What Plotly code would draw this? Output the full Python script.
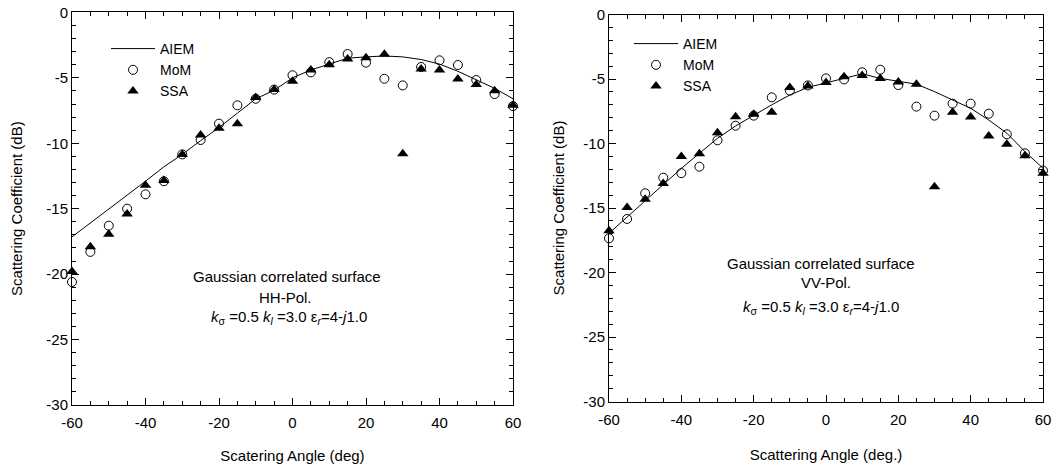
import plotly.graph_objects as go

angles = [-60, -55, -50, -45, -40, -35, -30, -25, -20, -15, -10, -5, 0,
          5, 10, 15, 20, 25, 30, 35, 40, 45, 50, 55, 60]

# HH polarisation
hh_aiem = [-17.15, -16.1, -15.05, -14.0, -12.9, -11.8, -10.85, -9.8, -8.8, -7.7,
           -6.6, -5.95, -5.0, -4.4, -3.95, -3.5, -3.4, -3.33, -3.4, -3.6,
           -3.95, -4.5, -5.15, -5.8, -6.6]
hh_mom = [-20.6, -18.3, -16.3, -15.0, -13.9, -12.9, -10.85, -9.75, -8.5, -7.1,
          -6.6, -5.9, -4.8, -4.58, -3.8, -3.18, -3.84, -5.07, -5.58, -4.17,
          -3.66, -4.02, -5.17, -6.24, -7.16]
hh_ssa = [-19.8, -17.9, -16.95, -15.4, -13.2, -12.85, -10.85, -9.37, -8.86, -8.5,
          -6.5, -5.9, -5.27, -4.4, -4.0, -3.56, -3.46, -3.2, -10.8, -4.33,
          -4.4, -5.09, -5.5, -5.98, -7.1]

# VV polarisation
vv_aiem = [-16.96, -15.7, -14.5, -13.2, -11.93, -10.76, -9.6, -8.64, -7.8, -7.0,
           -6.24, -5.65, -5.3, -4.95, -4.6, -4.95, -5.15, -5.4, -5.98, -6.63,
           -7.27, -8.18, -9.2, -10.63, -11.92]
vv_mom = [-17.35, -15.85, -13.86, -12.65, -12.3, -11.8, -9.75, -8.62, -7.84, -6.42,
          -5.9, -5.5, -4.95, -5.03, -4.48, -4.28, -5.47, -7.14, -7.84, -6.91,
          -6.91, -7.69, -9.29, -10.76, -12.1]
vv_ssa = [-16.76, -14.97, -14.33, -13.1, -11.0, -10.8, -9.16, -7.92, -7.74, -7.58,
          -5.65, -5.55, -5.28, -4.82, -4.72, -4.97, -5.23, -5.41, -13.35, -7.58,
          -7.95, -9.42, -10.06, -10.94, -12.31]

x_ticks = [-60, -40, -20, 0, 20, 40, 60]
x_ticktext = ["-60", "-40", "-20", "0", "20", "40", "60"]
y_ticks = [0, -5, -10, -15, -20, -25, -30]
y_ticktext = ["0", "-5", "-10", "-15", "-20", "-25", "-30"]

FONT = "Liberation Sans, Arial, sans-serif"

fig = go.Figure()


def add_panel(xa, ya, legend, aiem, mom, ssa):
    fig.add_trace(go.Scatter(x=angles, y=aiem, mode="lines", name="AIEM",
                             line=dict(color="black", width=1), cliponaxis=False,
                             xaxis=xa, yaxis=ya, legend=legend))
    fig.add_trace(go.Scatter(x=angles, y=mom, mode="markers", name="MoM",
                             marker=dict(symbol="circle-open", size=9,
                                         color="black", line=dict(width=1, color="black")),
                             cliponaxis=False,
                             xaxis=xa, yaxis=ya, legend=legend))
    fig.add_trace(go.Scatter(x=angles, y=ssa, mode="markers", name="SSA",
                             marker=dict(symbol="triangle-up", size=10, color="black"),
                             cliponaxis=False,
                             xaxis=xa, yaxis=ya, legend=legend))


add_panel("x", "y", "legend", hh_aiem, hh_mom, hh_ssa)
add_panel("x2", "y2", "legend2", vv_aiem, vv_mom, vv_ssa)

axis_common = dict(
    showgrid=False, zeroline=False, showline=True, linecolor="black", linewidth=1,
    mirror="ticks", ticks="inside", ticklen=7, tickcolor="black", tickwidth=1,
    tickfont=dict(family=FONT, size=15, color="black"),
    automargin=False,
)

xa_common = dict(axis_common, range=[-60, 60], tickmode="array",
                 tickvals=x_ticks, ticktext=x_ticktext, ticklabelstandoff=4,
                 minor=dict(dtick=5, ticks="inside", ticklen=4, tickcolor="black", tickwidth=1))
ya_common = dict(axis_common, range=[-30, 0], tickmode="array",
                 tickvals=y_ticks, ticktext=y_ticktext,
                 minor=dict(dtick=1, ticks="inside", ticklen=4, tickcolor="black", tickwidth=1))

W, H = 1054, 467
TITLE_FONT = dict(family=FONT, size=15, color="black")

fig.update_layout(
    width=W, height=H,
    margin=dict(l=0, r=0, t=0, b=0),
    paper_bgcolor="white", plot_bgcolor="white",
    font=dict(family=FONT, size=15, color="black"),
    xaxis=dict(xa_common, domain=[72 / W, 513 / W], anchor="y",
               title=dict(text="Scatering Angle (deg)", standoff=20, font=TITLE_FONT)),
    yaxis=dict(ya_common, domain=[1 - 405 / H, 1 - 12.4 / H], anchor="x",
               title=dict(text="Scattering Coefficient (dB)", standoff=20, font=TITLE_FONT)),
    xaxis2=dict(xa_common, domain=[609 / W, 1043 / W], anchor="y2",
                title=dict(text="Scattering Angle (deg.)", standoff=22, font=TITLE_FONT)),
    yaxis2=dict(ya_common, domain=[1 - 401.5 / H, 1 - 14.5 / H], anchor="x2",
                title=dict(text="Scattering Coefficient (dB)", standoff=15, font=TITLE_FONT)),
    legend=dict(x=106 / W, y=1 - 33 / H, xanchor="left", yanchor="top",
                bgcolor="rgba(0,0,0,0)", font=dict(family=FONT, size=14),
                tracegroupgap=0, itemwidth=44),
    legend2=dict(x=629 / W, y=1 - 28 / H, xanchor="left", yanchor="top",
                 bgcolor="rgba(0,0,0,0)", font=dict(family=FONT, size=14),
                 tracegroupgap=0, itemwidth=44),
)

note_font = dict(family=FONT, size=15, color="black")
third = "<i>k</i><sub>σ</sub> =0.5 <i>k</i><sub><i>l</i></sub> =3.0 ε<sub><i>r</i></sub>=4-<i>j</i>1.0"

annotations = [
    dict(x=-1.5, y=-20.2, xref="x", yref="y", text="Gaussian correlated surface"),
    dict(x=-2.0, y=-21.8, xref="x", yref="y", text="HH-Pol."),
    dict(x=-1.0, y=-23.3, xref="x", yref="y", text=third),
    dict(x=-1.4, y=-19.3, xref="x2", yref="y2", text="Gaussian correlated surface"),
    dict(x=0.0, y=-20.8, xref="x2", yref="y2", text="VV-Pol."),
    dict(x=-1.4, y=-22.7, xref="x2", yref="y2", text=third),
]
for a in annotations:
    fig.add_annotation(**a, showarrow=False, font=note_font, xanchor="center", yanchor="middle")

fig.write_html(
    "out.html",
    config={"displayModeBar": False},
    post_script="document.body.style.margin='0';document.body.style.overflow='hidden';",
)
